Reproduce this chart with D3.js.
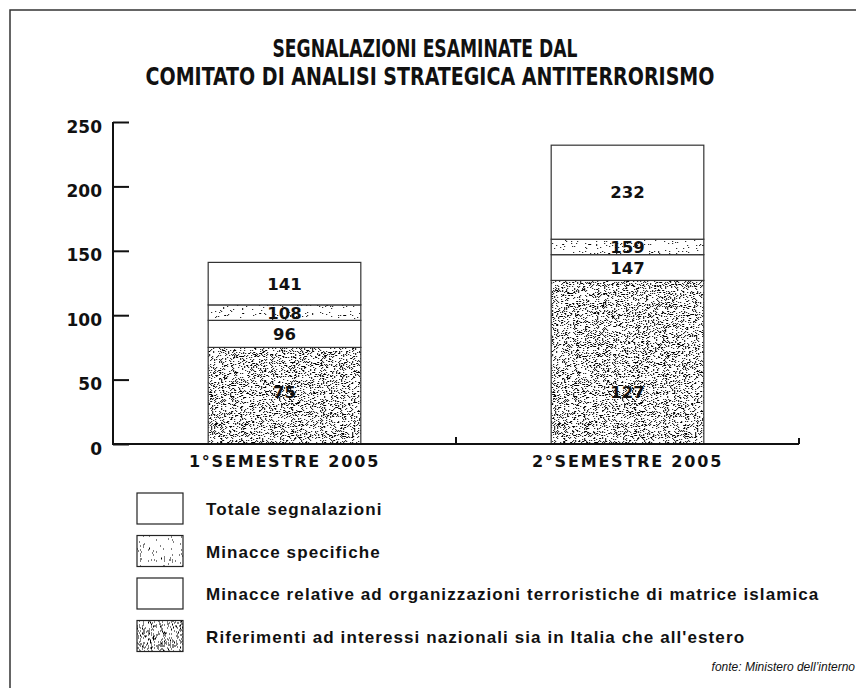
<!DOCTYPE html>
<html>
<head>
<meta charset="utf-8">
<title>Segnalazioni esaminate dal CASA</title>
<script src="https://cdnjs.cloudflare.com/ajax/libs/d3/7.8.5/d3.min.js"></script>
<style>
  body { margin: 0; background: #fff; }
  svg { display: block; }
  .num { font-family: "DejaVu Sans", sans-serif; font-weight: bold; fill: #111; }
  .lab { font-family: "Liberation Sans", Arial, sans-serif; font-weight: bold; fill: #111; }
</style>
</head>
<body>
<div id="chart"></div>
<script>
// values (cumulative, each series nested in the next)
var categories = ["1°SEMESTRE 2005", "2°SEMESTRE 2005"]
var riferimenti = [75, 127]
var minacceIslamica = [96, 147]
var minacceSpecifiche = [108, 159]
var totale = [141, 232]
var yTicks = [0, 50, 100, 150, 200, 250]
var legendLabels = [
  "Totale segnalazioni",
  "Minacce specifiche",
  "Minacce relative ad organizzazioni terroristiche di matrice islamica",
  "Riferimenti ad interessi nazionali sia in Italia che all'estero"
]
var legendFill = ["none", "light", "none", "dense"]

var width = 856, height = 688

var svg = d3.select("#chart").append("svg")
    .attr("width", width)
    .attr("height", height)

// stipple textures: noise thresholded into dots, tiled through a pattern
var defs = svg.append("defs")
function stipple(id, cut, colour) {
  var f = defs.append("filter").attr("id", "f-" + id)
      .attr("x", 0).attr("y", 0).attr("width", 1).attr("height", 1)
      .attr("color-interpolation-filters", "sRGB")
  f.append("feTurbulence").attr("type", "fractalNoise")
      .attr("baseFrequency", 1.1).attr("numOctaves", 3).attr("seed", 11).attr("result", "n")
  f.append("feColorMatrix").attr("in", "n").attr("type", "matrix")
      .attr("values", "0 0 0 0 0  0 0 0 0 0  0 0 0 0 0  12 0 0 0 " + (-12 * cut + 0.5))
  f.append("feComponentTransfer").append("feFuncA")
      .attr("type", "discrete").attr("tableValues", "0 1")
  f.append("feComposite").attr("operator", "in").attr("in2", "SourceGraphic")
  var p = defs.append("pattern").attr("id", id)
      .attr("patternUnits", "userSpaceOnUse")
      .attr("width", 180).attr("height", 180)
  p.append("rect").attr("width", 180).attr("height", 180).attr("fill", "#fff")
  p.append("rect").attr("width", 180).attr("height", 180).attr("fill", colour)
      .attr("filter", "url(#f-" + id + ")")
}
stipple("dense", 0.6, "#555")
stipple("light", 0.71, "#777")

// frame of the page
svg.append("path")
    .attr("d", "M10,688V10H856")
    .attr("fill", "none").attr("stroke", "#333").attr("stroke-width", 1.5)

// title
var title = svg.append("text")
    .attr("text-anchor", "middle")
    .style("font-family", "'Liberation Sans Narrow', 'DejaVu Sans Condensed', sans-serif")
    .style("font-weight", "bold")
    .style("font-size", "24px")
    .attr("fill", "#111")
title.append("tspan").attr("x", 425).attr("y", 57)
    .attr("textLength", 305).attr("lengthAdjust", "spacingAndGlyphs")
    .text("SEGNALAZIONI ESAMINATE DAL")
title.append("tspan").attr("x", 430).attr("y", 85)
    .attr("textLength", 569).attr("lengthAdjust", "spacingAndGlyphs")
    .text("COMITATO DI ANALISI STRATEGICA ANTITERRORISMO")

var x = d3.scaleBand().domain(categories).range([113, 799])
var barW = x.bandwidth() * 0.445
var y = d3.scaleLinear().domain([0, 250]).range([444, 122])

// y axis
var yAxis = svg.append("g")
    .attr("transform", "translate(113,0)")
    .call(d3.axisLeft(y).tickValues(yTicks).tickSize(-16).tickSizeOuter(0).tickPadding(11))
yAxis.selectAll("path, line").attr("stroke", "#111").attr("stroke-width", 2)
yAxis.selectAll("text")
    .attr("class", "num")
    .attr("dy", "0.95em")
    .attr("y", -6)
    .style("font-size", "17px")
yAxis.select(".domain").attr("d", "M0," + y(0) + "V" + y(250))

// bars
var bars = categories.map(function(c, i) {
  return { cat: c, segs: [
    { lo: 0, hi: riferimenti[i], fill: "dense" },
    { lo: riferimenti[i], hi: minacceIslamica[i], fill: "none" },
    { lo: minacceIslamica[i], hi: minacceSpecifiche[i], fill: "light" },
    { lo: minacceSpecifiche[i], hi: totale[i], fill: "none" }
  ] }
})

var g = svg.selectAll(".bar").data(bars).enter().append("g")
    .attr("class", "bar")
    .attr("transform", function(d) { return "translate(" + (x(d.cat) + (x.bandwidth() - barW) / 2) + ",0)" })

var seg = g.selectAll(".seg").data(function(d) { return d.segs }).enter().append("g")
seg.append("rect")
    .attr("x", 0).attr("width", barW)
    .attr("y", function(d) { return y(d.hi) })
    .attr("height", function(d) { return y(d.lo) - y(d.hi) })
    .attr("fill", function(d) { return d.fill == "none" ? "#fff" : "url(#" + d.fill + ")" })
    .attr("stroke", "#333").attr("stroke-width", 1.2)
seg.append("text")
    .attr("class", "num")
    .attr("text-anchor", "middle")
    .attr("x", barW / 2)
    .attr("y", function(d) {
      var mid = d.lo == 0 ? y(0) - 52 : (y(d.lo) + y(d.hi)) / 2
      return mid + 6
    })
    .style("font-size", "16.5px")
    .attr("fill", "#000")
    .text(function(d) { return d.hi })

// x axis
var xAxis = svg.append("g").attr("stroke", "#111").attr("stroke-width", 2).attr("fill", "none")
xAxis.append("path").attr("d", "M112," + y(0) + "H" + x.range()[1])
x.domain().slice(1).forEach(function(c) {
  xAxis.append("path").attr("d", "M" + x(c) + "," + y(0) + "v-7")
})
xAxis.append("path").attr("d", "M" + x.range()[1] + "," + y(0) + "v-6")

svg.selectAll(".cat").data(categories).enter().append("text")
    .attr("class", "num")
    .attr("text-anchor", "middle")
    .attr("x", function(d) { return x(d) + x.bandwidth() / 2 })
    .attr("y", 467)
    .style("font-size", "16px")
    .style("letter-spacing", "1.8px")
    .text(function(d) { return d })

// legend
var leg = svg.selectAll(".leg").data(legendLabels).enter().append("g")
    .attr("class", "leg")
    .attr("transform", function(d, i) { return "translate(137," + (493 + i * 42.5) + ")" })
leg.append("rect")
    .attr("width", 46).attr("height", 31)
    .attr("fill", function(d, i) { return legendFill[i] == "none" ? "#fff" : "url(#" + legendFill[i] + ")" })
    .attr("stroke", "#222").attr("stroke-width", 1.2)
leg.append("text")
    .attr("class", "lab")
    .attr("x", 69).attr("y", 22)
    .style("font-size", "17px")
    .style("letter-spacing", "1.1px")
    .text(function(d) { return d })

// source
svg.append("text")
    .attr("x", 855).attr("y", 671)
    .attr("text-anchor", "end")
    .style("font-family", "'Liberation Sans', Arial, sans-serif")
    .style("font-style", "italic")
    .style("font-size", "12px")
    .attr("fill", "#111")
    .text("fonte: Ministero dell\u2019interno")
</script>
</body>
</html>
